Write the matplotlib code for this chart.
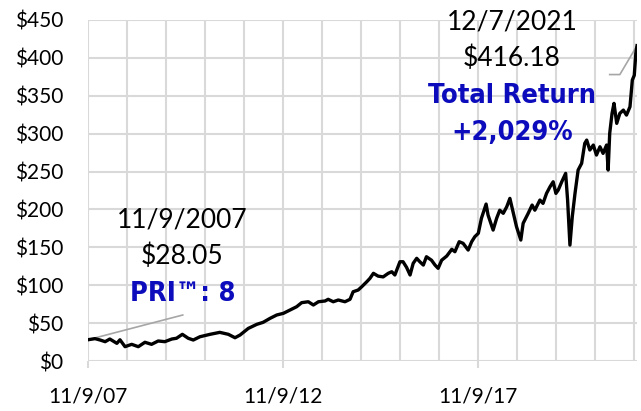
import matplotlib
matplotlib.use('Agg')
import matplotlib.pyplot as plt

# years since 11/9/2007 and closing price
years = [0.00, 0.18, 0.31, 0.44, 0.56, 0.74, 0.82, 0.95, 1.12, 1.29, 1.46, 1.63,
         1.80, 1.97, 2.15, 2.27, 2.42, 2.57, 2.70, 2.87, 3.13, 3.38, 3.60, 3.77,
         3.90, 4.11, 4.33, 4.49, 4.67, 4.84, 5.01, 5.18, 5.35, 5.48, 5.65, 5.78,
         5.91, 6.08, 6.16, 6.29, 6.42, 6.59, 6.72, 6.80, 6.93, 7.02, 7.15, 7.23,
         7.32, 7.44, 7.57, 7.70, 7.79, 7.87, 8.00, 8.08, 8.17, 8.26, 8.34, 8.43,
         8.51, 8.60, 8.68, 8.81, 8.90, 8.98, 9.07, 9.20, 9.33, 9.41, 9.52, 9.62,
         9.75, 9.84, 9.92, 10.01, 10.09, 10.21, 10.26, 10.39, 10.48, 10.56, 10.65,
         10.74, 10.82, 10.91, 10.99, 11.10, 11.16, 11.29, 11.39, 11.46, 11.59,
         11.67, 11.76, 11.85, 11.93, 12.00, 12.06, 12.15, 12.25, 12.30, 12.36,
         12.42, 12.49, 12.57, 12.66, 12.74, 12.79, 12.87, 12.96, 13.04, 13.13,
         13.21, 13.30, 13.34, 13.38, 13.44, 13.49, 13.56, 13.64, 13.73, 13.81,
         13.90, 13.96, 14.01, 14.05, 14.08]
prices = [28.05, 29.5, 27.7, 25.5, 29.0, 23.3, 28.0, 18.9, 22.0, 18.9, 24.7, 22.0,
          26.4, 25.5, 29.0, 30.0, 35.2, 30.0, 27.7, 32.0, 35.2, 37.8, 35.2, 30.7,
          34.3, 43.0, 48.4, 51.0, 56.3, 60.7, 62.9, 67.3, 71.6, 77.0, 78.2, 73.9,
          78.2, 79.2, 81.4, 78.2, 80.5, 78.2, 81.4, 91.4, 93.7, 98.0, 104.6, 109.0,
          115.7, 112.0, 111.0, 115.7, 117.8, 113.5, 131.0, 131.0, 123.6, 113.5, 128.9, 135.5,
          131.0, 126.6, 137.6, 133.0, 126.6, 122.3, 133.0, 138.5, 147.4, 144.2, 157.4, 155.3,
          146.4, 157.4, 164.0, 168.5, 188.3, 207.1, 192.6, 172.8, 188.3, 199.0, 194.9,
          203.6, 214.6, 194.9, 177.2, 159.6, 181.7, 194.9, 205.8, 199.0, 212.4,
          208.0, 221.2, 230.0, 236.5, 221.2, 225.6, 236.5, 247.6, 212.4, 153.0,
          190.4, 221.2, 252.0, 260.8, 287.2, 291.5, 278.4, 285.0, 271.8, 282.7,
          274.0, 285.0, 252.0, 300.4, 326.8, 340.0, 313.6, 326.8, 331.1, 324.5,
          335.5, 370.7, 377.0, 405.9, 416.18]

tick_pos = [0, 5, 10]
tick_labels = ['11/9/07', '11/9/12', '11/9/17']
y_ticks = list(range(0, 451, 50))

blue = '#0c0cbd'
grid_c = '#d9d9d9'

fig = plt.figure(figsize=(6.41, 4.11), dpi=100)
ax = fig.add_axes([88 / 641, 1 - 361 / 411, (637 - 88) / 641, (361 - 20) / 411])

for yr in range(0, 15):
    ax.axvline(yr, color=grid_c, lw=1.5, zorder=0)
for v in y_ticks:
    ax.axhline(v, color=grid_c, lw=1.5, zorder=0)

ax.plot(years, prices, color='black', lw=2.4, solid_joinstyle='round', zorder=3)

# leader lines for the annotations
ax.plot([0, 2.43], [28.05, 60.7], color='#a6a6a6', lw=1.2, zorder=2)
ax.plot([13.38, 13.64, 14.08], [378, 378, 416.18], color='#a6a6a6', lw=1.2, zorder=2)

ax.set_xlim(0, 14.08)
ax.set_ylim(0, 450)
for s in ax.spines.values():
    s.set_visible(False)

ax.set_yticks(y_ticks)
ax.set_yticklabels([f'${v}' for v in y_ticks], fontfamily='Lato', fontsize=15)
ax.tick_params(axis='y', length=0, pad=18)
ax.set_xticks(tick_pos)
ax.set_xticklabels(tick_labels, fontfamily='Lato', fontsize=15)
ax.tick_params(axis='x', length=5, color=grid_c, width=1.5, pad=13)

reg = dict(fontfamily='Lato', fontsize=19, ha='center', va='center', color='black')
bld = dict(fontfamily='DejaVu Sans', fontstretch='condensed', fontweight='bold',
           fontsize=19.5, ha='center', va='center', color=blue)

def px(x, y):
    return fig.transFigure.inverted().transform((x, 411 - y))

fig.text(*px(182.5, 220), '11/9/2007', **reg)
fig.text(*px(182.5, 256), '$28.05', **reg)
fig.text(*px(182.5, 294), 'PRI™: 8', **bld)
fig.text(*px(512, 22), '12/7/2021', **reg)
fig.text(*px(512, 58), '$416.18', **reg)
fig.text(*px(512.5, 96), 'Total Return', **bld)
fig.text(*px(512.5, 133), '+2,029%', **bld)

fig.savefig('out.png', dpi=100)
